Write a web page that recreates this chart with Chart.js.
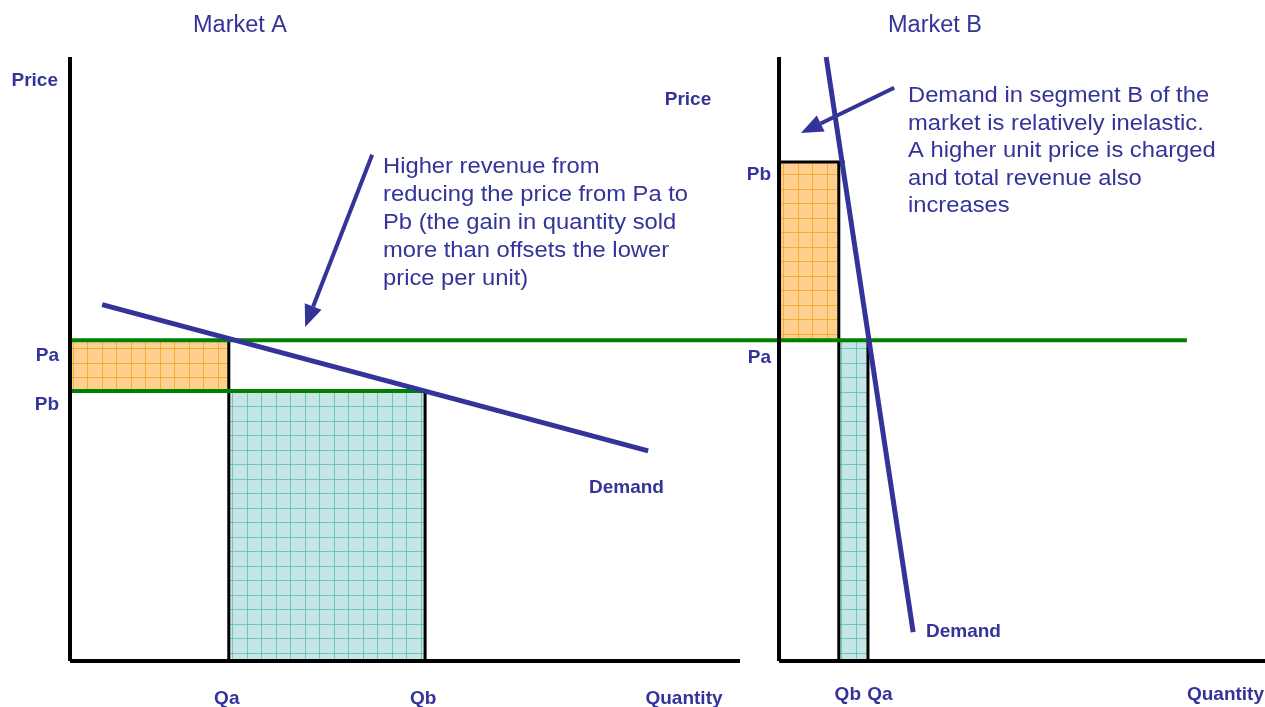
<!DOCTYPE html>
<html>
<head>
<meta charset="utf-8">
<script src="https://cdn.jsdelivr.net/npm/chart.js@4"></script>
<style>
  html, body { margin: 0; padding: 0; background: #fff; }
  canvas { display: block; }
</style>
</head>
<body>
<canvas id="priceChart" width="1265" height="707"></canvas>
<script>
// ---- values (price 0-100, quantity per market) ----
const priceA = 53.1;      // Pa (same level in both markets)
const priceBA = 44.7;     // Pb in market A
const priceBB = 82.6;     // Pb in market B
const qtyA = [23.7, 53.0];          // Qa, Qb in market A
const qtyB = [12.3, 18.3];          // Qb, Qa in market B
const demandA = [[4.8, 59.0], [86.3, 34.8]];
const demandB = [[9.7, 100], [27.6, 4.8]];
const paLineEnd = 166.7;            // Pa line runs across into market B
const pbTopEnd = 13.5;              // top edge of the orange box in B
const axisLen = 100;

const tickLabelsA = ['Qa', 'Qb'];
const tickLabelsB = ['Qb', 'Qa'];
const noteA = ['Higher revenue from', 'reducing the price from Pa to', 'Pb (the gain in quantity sold', 'more than offsets the lower', 'price per unit)'];
const noteB = ['Demand in segment B of the', 'market is relatively inelastic.', 'A higher unit price is charged', 'and total revenue also', 'increases'];

const TEXT = '#333399';
const GREEN = '#008000';
const FONT = '"Liberation Sans", Arial, sans-serif';

// grid-paper fill like the original slide
function gridPattern(base, line) {
  const c = document.createElement('canvas');
  c.width = 29; c.height = 29;
  const g = c.getContext('2d');
  g.fillStyle = base;
  g.fillRect(0, 0, 29, 29);
  g.strokeStyle = line;
  g.lineWidth = 1;
  g.beginPath();
  g.moveTo(0.5, 0); g.lineTo(0.5, 29);
  g.moveTo(15.5, 0); g.lineTo(15.5, 29);
  g.moveTo(0, 0.5); g.lineTo(29, 0.5);
  g.moveTo(0, 15.5); g.lineTo(29, 15.5);
  g.stroke();
  return g.createPattern(c, 'repeat');
}
const orangeFill = gridPattern('#fdd08f', 'rgba(245,160,20,0.75)');
const tealFill = gridPattern('#c6e6e5', 'rgba(80,185,180,0.75)');

function seg(axis, pts, color, width, order) {
  return {
    xAxisID: axis,
    data: pts.map(p => ({ x: p[0], y: p[1] })),
    borderColor: color,
    borderWidth: width,
    pointRadius: 0,
    fill: false,
    tension: 0,
    clip: false,
    order: order
  };
}
function box(axis, x0, x1, top, bottom, pattern) {
  return {
    xAxisID: axis,
    data: [{ x: x0, y: top }, { x: x1, y: top }],
    borderColor: 'rgba(0,0,0,0)',
    borderWidth: 1,
    pointRadius: 0,
    backgroundColor: pattern,
    fill: bottom === 0 ? 'origin' : { value: bottom },
    clip: false,
    order: 20
  };
}

const datasets = [
  // shaded revenue boxes
  box('xA', 0, qtyA[0], priceA, priceBA, orangeFill),
  box('xA', qtyA[0], qtyA[1], priceBA, 0, tealFill),
  box('xB', 0, qtyB[0], priceBB, priceA, orangeFill),
  box('xB', qtyB[0], qtyB[1], priceA, 0, tealFill),
  // black box edges
  seg('xA', [[qtyA[0], 0], [qtyA[0], priceA]], '#000', 3, 5),
  seg('xA', [[qtyA[1], 0], [qtyA[1], priceBA]], '#000', 3, 5),
  seg('xB', [[qtyB[0], 0], [qtyB[0], priceBB]], '#000', 3, 5),
  seg('xB', [[qtyB[1], 0], [qtyB[1], priceA]], '#000', 3, 5),
  seg('xB', [[0, priceBB], [pbTopEnd, priceBB]], '#000', 3, 5),
  // price lines
  seg('xA', [[0, priceA], [paLineEnd, priceA]], GREEN, 4, 3),
  seg('xA', [[0, priceBA], [qtyA[1], priceBA]], GREEN, 4, 3),
  // axes
  seg('xA', [[0, 0], [0, axisLen]], '#000', 4, 2),
  seg('xA', [[0, 0], [axisLen, 0]], '#000', 4, 2),
  seg('xB', [[0, 0], [0, axisLen]], '#000', 4, 2),
  seg('xB', [[0, 0], [axisLen, 0]], '#000', 4, 2),
  // demand curves
  seg('xA', demandA, TEXT, 5, 0),
  seg('xB', demandB, TEXT, 5, 0)
];

function label(ctx, str, x, y, opts) {
  ctx.save();
  ctx.translate(x, y);
  ctx.scale(opts.sx || 1, 1);
  ctx.font = opts.font;
  ctx.textAlign = opts.align || 'left';
  ctx.textBaseline = 'middle';
  ctx.fillStyle = TEXT;
  ctx.fillText(str, 0, 0);
  ctx.restore();
}

function arrow(ctx, x0, y0, x1, y1) {
  const ang = Math.atan2(y1 - y0, x1 - x0);
  const len = 22, half = 9;
  const bx = x1 - len * Math.cos(ang), by = y1 - len * Math.sin(ang);
  ctx.save();
  ctx.strokeStyle = TEXT;
  ctx.fillStyle = TEXT;
  ctx.lineWidth = 4;
  ctx.beginPath();
  ctx.moveTo(x0, y0);
  ctx.lineTo(bx, by);
  ctx.stroke();
  ctx.beginPath();
  ctx.moveTo(x1, y1);
  ctx.lineTo(bx + half * Math.sin(ang), by - half * Math.cos(ang));
  ctx.lineTo(bx - half * Math.sin(ang), by + half * Math.cos(ang));
  ctx.closePath();
  ctx.fill();
  ctx.restore();
}

const annotations = {
  id: 'annotations',
  afterDatasetsDraw(chart) {
    const ctx = chart.ctx;
    const xA = chart.scales.xA, xB = chart.scales.xB, y = chart.scales.y;
    const bold = 'bold 19px ' + FONT;
    const title = '23.5px ' + FONT;
    const note = '22px ' + FONT;

    label(ctx, 'Market A', 240, 26, { font: title, align: 'center' });
    label(ctx, 'Market B', 935, 26, { font: title, align: 'center' });

    // market A axis labels
    const a0 = xA.getPixelForValue(0);
    label(ctx, 'Price', a0 - 12, 81, { font: bold, align: 'right' });
    label(ctx, 'Pa', a0 - 11, y.getPixelForValue(priceA) + 15, { font: bold, align: 'right' });
    label(ctx, 'Pb', a0 - 11, y.getPixelForValue(priceBA) + 14, { font: bold, align: 'right' });
    tickLabelsA.forEach((t, i) => label(ctx, t, xA.getPixelForValue(qtyA[i]) - 2, 699, { font: bold, align: 'center' }));
    label(ctx, 'Quantity', 684, 699, { font: bold, align: 'center' });
    label(ctx, 'Demand', 589, 488, { font: bold });

    // market B axis labels
    const b0 = xB.getPixelForValue(0);
    label(ctx, 'Price', 688, 100, { font: bold, align: 'center' });
    label(ctx, 'Pb', b0 - 8, y.getPixelForValue(priceBB) + 13, { font: bold, align: 'right' });
    label(ctx, 'Pa', b0 - 8, y.getPixelForValue(priceA) + 17, { font: bold, align: 'right' });
    tickLabelsB.forEach((t, i) => label(ctx, t, xB.getPixelForValue(qtyB[i]) + 9 + i * 3, 695, { font: bold, align: 'center' }));
    label(ctx, 'Quantity', 1264, 695, { font: bold, align: 'right' });
    label(ctx, 'Demand', 926, 632, { font: bold });

    // explanatory notes
    noteA.forEach((t, i) => label(ctx, t, 383, 167 + 28 * i, { font: note, sx: 1.08 }));
    noteB.forEach((t, i) => label(ctx, t, 908, 96 + 27.5 * i, { font: note, sx: 1.08 }));

    arrow(ctx, xA.getPixelForValue(45.1), y.getPixelForValue(83.8), xA.getPixelForValue(35.1), y.getPixelForValue(55.3));
    arrow(ctx, xB.getPixelForValue(23.7), y.getPixelForValue(94.9), xB.getPixelForValue(4.5), y.getPixelForValue(87.4));
  }
};

new Chart(document.getElementById('priceChart').getContext('2d'), {
  type: 'line',
  data: { datasets: datasets },
  options: {
    responsive: false,
    animation: false,
    events: [],
    layout: { padding: { left: 70, right: 0, top: 57, bottom: 46 } },
    plugins: { legend: { display: false }, tooltip: { enabled: false } },
    scales: {
      xA: { type: 'linear', display: false, min: 0, max: 178.36 },
      xB: { type: 'linear', display: false, min: -145.9, max: 100 },
      y: { type: 'linear', display: false, min: 0, max: 100 }
    }
  },
  plugins: [annotations]
});
</script>
</body>
</html>
